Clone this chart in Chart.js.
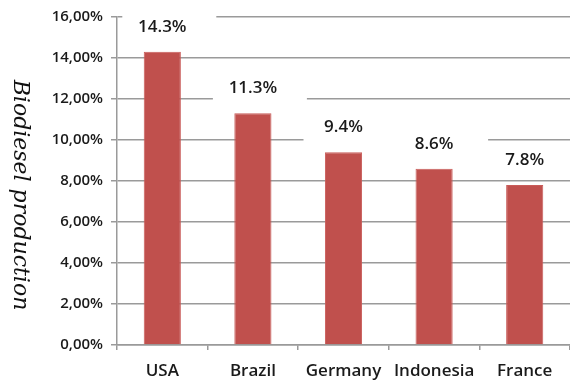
<!DOCTYPE html>
<html>
<head>
<meta charset="utf-8">
<script src="https://cdn.jsdelivr.net/npm/chart.js@4.4.1/dist/chart.umd.min.js"></script>
<style>
  html, body { margin: 0; padding: 0; background: #fff; }
  #wrap { width: 570px; height: 381px; position: relative; }
</style>
</head>
<body>
<div id="wrap"><canvas id="biodieselChart"></canvas></div>
<script>
const countries = ['USA', 'Brazil', 'Germany', 'Indonesia', 'France'];
const shares = [14.3, 11.3, 9.4, 8.6, 7.8];
const shareLabels = ['14.3%', '11.3%', '9.4%', '8.6%', '7.8%'];
const yTicks = [0, 2, 4, 6, 8, 10, 12, 14, 16];

const gridColor = '#9a9a9a';
const barColor = '#c0504d';
const sansFont = "'Open Sans', sans-serif";

// white boxes behind the value labels (they hide the grid), then the text on top
const valueLabels = {
    id: 'valueLabels',
    beforeDatasetsDraw(chart) {
        let ctx = chart.ctx;
        let meta = chart.getDatasetMeta(0);
        ctx.save();
        ctx.fillStyle = '#ffffff';
        meta.data.forEach(bar => {
            let cy = bar.y - 25;
            ctx.fillRect(bar.x - 40, cy - 17, 94, 34);
        });
        ctx.restore();
    },
    afterDatasetsDraw(chart) {
        let ctx = chart.ctx;
        let meta = chart.getDatasetMeta(0);
        ctx.save();
        ctx.fillStyle = '#1a1a1a';
        ctx.font = "600 17px " + sansFont;
        ctx.textAlign = 'center';
        ctx.textBaseline = 'middle';
        meta.data.forEach((bar, i) => {
            ctx.fillText(shareLabels[i], bar.x, bar.y - 25);
        });
        ctx.restore();
    }
};

// axis title reads top to bottom
const sideTitle = {
    id: 'sideTitle',
    afterDraw(chart) {
        let ctx = chart.ctx;
        let area = chart.chartArea;
        ctx.save();
        ctx.translate(20, (area.top + area.bottom) / 2 + 14);
        ctx.rotate(Math.PI / 2);
        ctx.font = "italic 22px 'DejaVu Serif', serif";
        ctx.fillStyle = '#111111';
        ctx.textAlign = 'center';
        ctx.textBaseline = 'middle';
        ctx.fillText('Biodiesel production', 0, 0);
        ctx.restore();
    }
};

new Chart(document.getElementById('biodieselChart').getContext('2d'), {
    type: 'bar',
    data: {
        labels: countries,
        datasets: [{
            data: shares,
            backgroundColor: barColor,
            borderColor: '#c95c59',
            borderWidth: 1,
            barPercentage: 0.41,
            categoryPercentage: 1.0
        }]
    },
    options: {
        responsive: true,
        maintainAspectRatio: false,
        animation: false,
        layout: { padding: { left: 0, right: 0, top: 16, bottom: 0 } },
        plugins: {
            legend: { display: false },
            tooltip: { enabled: false }
        },
        scales: {
            x: {
                grid: {
                    offset: true,
                    drawOnChartArea: false,
                    color: gridColor,
                    lineWidth: 1.5,
                    tickLength: 5
                },
                border: { color: gridColor, width: 1.5 },
                ticks: {
                    padding: 11,
                    color: '#1a1a1a',
                    font: { family: sansFont, size: 17, weight: '600' }
                },
                afterFit(scale) { scale.height = 36; }
            },
            y: {
                min: 0,
                max: 16,
                afterBuildTicks(scale) {
                    scale.ticks = yTicks.map(v => ({ value: v }));
                },
                grid: {
                    color: gridColor,
                    lineWidth: 1.5,
                    tickLength: 6
                },
                border: { color: gridColor, width: 1.5 },
                ticks: {
                    padding: 8,
                    color: '#1a1a1a',
                    font: { family: sansFont, size: 15, weight: '600' },
                    callback: v => v.toFixed(2).replace('.', ',') + '%'
                },
                afterFit(scale) { scale.width = 117; }
            }
        }
    },
    plugins: [valueLabels, sideTitle]
});
</script>
</body>
</html>
